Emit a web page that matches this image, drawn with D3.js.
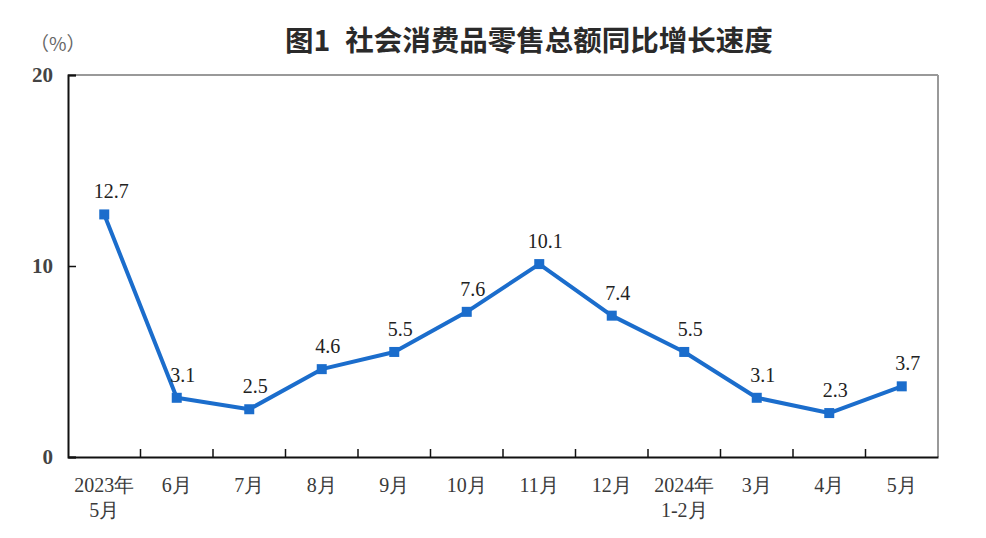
<!DOCTYPE html>
<html><head><meta charset="utf-8">
<script src="https://cdn.jsdelivr.net/npm/d3@7"></script>
<style>body{margin:0;background:#fff}</style>
</head><body><svg id="c" width="986" height="538"></svg>
<script>
const categories = [["2023年","5月"],["6月"],["7月"],["8月"],["9月"],["10月"],["11月"],["12月"],["2024年","1-2月"],["3月"],["4月"],["5月"]];
const values = [12.7,3.1,2.5,4.6,5.5,7.6,10.1,7.4,5.5,3.1,2.3,3.7];
const yTicks = [0,10,20];
const titleA = "图1";
const titleB = "社会消费品零售总额同比增长速度";
const unit = "（%）";

const svg = d3.select("#c");
const L=68,R=938,T=75,B=457;
const x = d3.scaleBand().domain(d3.range(categories.length)).range([L,R]);
const y = d3.scaleLinear().domain([0,20]).range([B,T]);
const serif = "'Liberation Serif','Times New Roman',serif";
const txt = "#3a3a3a";

const t = svg.append("text").attr("x",285).attr("y",51)
  .attr("font-family","'Noto Sans CJK SC',sans-serif").attr("font-weight","bold")
  .attr("font-size",28.5).attr("fill","#2a2a2a");
t.append("tspan").text(titleA);
t.append("tspan").attr("dx",15).text(titleB);
svg.append("text").attr("x",30).attr("y",51).attr("font-family","'Noto Sans CJK SC',sans-serif")
  .attr("font-size",19).attr("fill","#666").text(unit);

// frame
svg.append("line").attr("x1",L).attr("x2",R).attr("y1",T).attr("y2",T).attr("stroke","#999").attr("stroke-width",2);
svg.append("line").attr("x1",R).attr("x2",R).attr("y1",T).attr("y2",B).attr("stroke","#999").attr("stroke-width",2);

// y axis
const ya = svg.append("g").attr("transform",`translate(${L},0)`)
  .call(d3.axisLeft(y).tickValues(yTicks).tickSize(-8).tickPadding(15).tickFormat(d3.format("d")));
ya.select(".domain").attr("stroke","#111").attr("stroke-width",2);
ya.selectAll(".tick line").attr("stroke","#111").attr("stroke-width",1.5);
ya.selectAll(".tick text").attr("font-family",serif).attr("font-size",21).attr("font-weight","bold").attr("fill","#444");

// x axis
const xa = svg.append("g").attr("transform",`translate(0,${B})`)
  .call(d3.axisBottom(x).tickValues([]).tickSizeOuter(0));
xa.select(".domain").attr("stroke","#111").attr("stroke-width",2);
const boundaries = d3.range(1,categories.length).map(i=>x(i));
xa.selectAll("line.b").data(boundaries).join("line").attr("class","b")
  .attr("x1",d=>d).attr("x2",d=>d).attr("y1",0).attr("y2",-8).attr("stroke","#111").attr("stroke-width",1.5);
const lab = svg.append("g").attr("font-family",serif).attr("font-size",20).attr("fill",txt).attr("text-anchor","middle");
categories.forEach((c,i)=>{
  c.forEach((s,j)=>{
    lab.append("text").attr("x",x(i)+x.bandwidth()/2).attr("y",B+35+j*25).text(s);
  });
});

// line
const cx = i=>x(i)+x.bandwidth()/2;
svg.append("path").datum(values).attr("fill","none").attr("stroke","#1b6dcc").attr("stroke-width",4)
  .attr("stroke-linejoin","round")
  .attr("d",d3.line().x((d,i)=>cx(i)).y(d=>y(d)));
svg.selectAll("rect.m").data(values).join("rect").attr("class","m")
  .attr("x",(d,i)=>cx(i)-5).attr("y",d=>y(d)-5).attr("width",10).attr("height",10).attr("fill","#1b6dcc");
svg.selectAll("text.v").data(values).join("text").attr("class","v")
  .attr("x",(d,i)=>cx(i)+(i===0?7:6)).attr("y",d=>y(d)-16).attr("text-anchor","middle")
  .attr("font-family",serif).attr("font-size",20).attr("fill","#222").text(d=>d3.format(".1f")(d));
</script></body></html>
